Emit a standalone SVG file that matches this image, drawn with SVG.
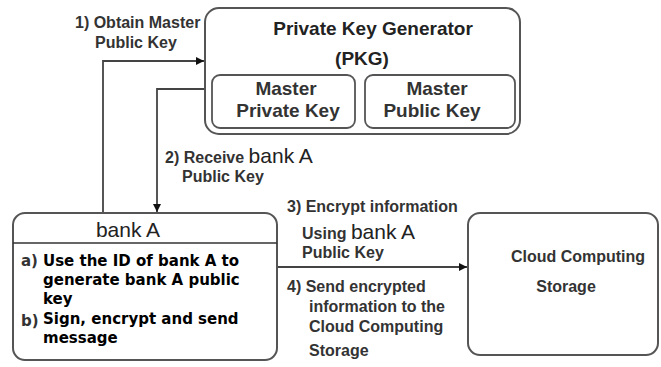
<svg xmlns="http://www.w3.org/2000/svg" width="661" height="367" viewBox="0 0 661 367">
  <style>
    .box { fill: #fff; stroke: #555; stroke-width: 2; }
    .inner { fill: #fff; stroke: #555; stroke-width: 1.8; }
    .conn { fill: none; stroke: #444; stroke-width: 1.8; }
    .title { font-family: "Liberation Sans", Arial, sans-serif; font-weight: bold; font-size: 19px; fill: #222; }
    .key { font-family: "Liberation Sans", Arial, sans-serif; font-weight: bold; font-size: 19px; fill: #333; text-anchor: middle; }
    .lbl { font-family: "Liberation Sans", Arial, sans-serif; font-weight: bold; font-size: 16px; fill: #333; }
    .bank { font-family: "Liberation Sans", Arial, sans-serif; font-size: 21px; fill: #222; }
    .list { font-family: "DejaVu Sans", Verdana, sans-serif; font-weight: bold; font-size: 15px; fill: #000; }
    .mark { font-family: "DejaVu Sans", Verdana, sans-serif; font-weight: bold; font-size: 15px; fill: #333; }
  </style>
  <defs>
    <marker id="arrow" viewBox="0 0 10 10" refX="10" refY="5" markerWidth="8" markerHeight="8" markerUnits="userSpaceOnUse" orient="auto">
      <path d="M0,0 L10,5 L0,10 z" fill="#111"/>
    </marker>
  </defs>
  <rect width="661" height="367" fill="#fff"/>

  <g id="connectors">
    <path class="conn" d="M103,213 V61 H204" marker-end="url(#arrow)"/>
    <path class="conn" d="M205,89 H157 V212" marker-end="url(#arrow)"/>
    <path class="conn" d="M277,267 H467" marker-end="url(#arrow)"/>
  </g>

  <g id="pkg">
    <rect class="box" x="205" y="8" width="315" height="126" rx="14"/>
    <text class="title" x="373" y="35" text-anchor="middle">Private Key Generator</text>
    <text class="title" x="362" y="65" text-anchor="middle">(PKG)</text>
  </g>

  <g id="master-private-key">
    <rect class="inner" x="212" y="75" width="143" height="53" rx="8"/>
    <text class="key" x="286" y="95">Master</text>
    <text class="key" x="288" y="117">Private Key</text>
  </g>

  <g id="master-public-key">
    <rect class="inner" x="365" y="75" width="150" height="53" rx="8"/>
    <text class="key" x="437" y="95">Master</text>
    <text class="key" x="432" y="117">Public Key</text>
  </g>

  <g id="bank-a">
    <rect class="box" x="13" y="213" width="264" height="147" rx="12"/>
    <line x1="13" y1="243" x2="277" y2="243" stroke="#333" stroke-width="1.5"/>
    <text class="bank" x="128" y="237" text-anchor="middle">bank A</text>
    <text class="mark" x="21" y="266">a)</text>
    <text class="list" x="43" y="266">Use the ID of bank A to</text>
    <text class="list" x="43" y="285">generate bank A public</text>
    <text class="list" x="43" y="304">key</text>
    <text class="mark" x="21" y="326">b)</text>
    <text class="list" x="43" y="324">Sign, encrypt and send</text>
    <text class="list" x="43" y="343">message</text>
  </g>

  <g id="cloud-storage">
    <rect class="box" x="468" y="213" width="190" height="142" rx="12"/>
    <text class="lbl" x="578" y="262" text-anchor="middle">Cloud Computing</text>
    <text class="lbl" x="566" y="292" text-anchor="middle">Storage</text>
  </g>

  <g id="labels">
    <text class="lbl" x="75" y="28">1) Obtain Master</text>
    <text class="lbl" x="95" y="48">Public Key</text>
    <text class="lbl" x="165" y="163">2) Receive <tspan class="bank" font-weight="normal">bank A</tspan></text>
    <text class="lbl" x="182" y="182">Public Key</text>
    <text class="lbl" x="287" y="212">3) Encrypt information</text>
    <text class="lbl" x="302" y="239">Using <tspan class="bank" font-weight="normal">bank A</tspan></text>
    <text class="lbl" x="302" y="258">Public Key</text>
    <text class="lbl" x="287" y="292">4) Send encrypted</text>
    <text class="lbl" x="309" y="312">information to the</text>
    <text class="lbl" x="309" y="332">Cloud Computing</text>
    <text class="lbl" x="309" y="356">Storage</text>
  </g>
</svg>
